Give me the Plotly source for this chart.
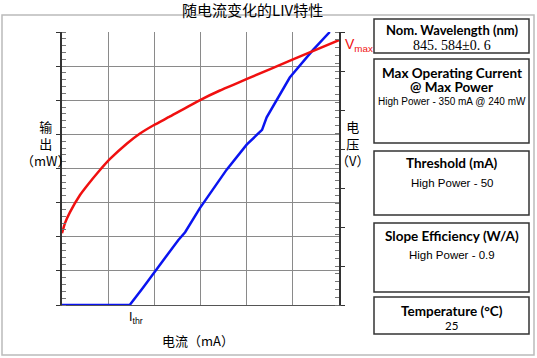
import plotly.graph_objects as go

# Data (current in mA)
current_power = [0, 88, 105, 120, 151, 160, 179, 214, 240, 260, 266, 296, 326, 348]
power_mw = [0, 0, 15, 29, 57, 64, 85, 119, 141, 154, 165, 200, 224, 240]

current_volt = [0, 3.9, 10.4, 23.4, 33.8, 45.5, 62.4, 84.5, 101.4, 119.6, 140.4, 179.4, 205.3, 240.4, 300.2, 360]
voltage_v = [0.92, 1.05, 1.19, 1.41, 1.545, 1.686, 1.872, 2.071, 2.199, 2.308, 2.417, 2.628, 2.75, 2.898, 3.148, 3.397]

title_text = "随电流变化的LIV特性"
x_label = "电流（mA）"
y_label = "输<br>出<br>（mW）"
y2_label = "电<br>压<br>（V）"

panels = [
    ("Nom. Wavelength (nm)", "845. 584±0. 6"),
    ("Max Operating Current<br>@ Max Power", "High Power - 350 mA @ 240 mW"),
    ("Threshold (mA)", "High Power - 50"),
    ("Slope Efficiency (W/A)", "High Power - 0.9"),
    ("Temperature (°C)", "25"),
]

W, H = 537, 358
def px(x):
    return x / W
def py(y):
    return 1 - y / H

CJK = "Noto Sans CJK SC"

fig = go.Figure()
fig.add_trace(go.Scatter(x=current_power, y=power_mw, mode="lines",
                         line=dict(color="#0a14f0", width=2.5), yaxis="y", showlegend=False))
fig.add_trace(go.Scatter(x=current_volt, y=voltage_v, mode="lines",
                         line=dict(color="#f01010", width=2.5, shape="spline", smoothing=0.5),
                         yaxis="y2", showlegend=False))

fig.update_layout(
    width=W, height=H,
    margin=dict(l=0, r=0, t=0, b=0),
    paper_bgcolor="white", plot_bgcolor="white",
    xaxis=dict(domain=[px(62), px(339)], range=[0, 360], dtick=60, showgrid=True,
               gridcolor="#8a8a8a", gridwidth=1, showticklabels=False, ticks="",
               showline=True, linecolor="#555", linewidth=1, zeroline=False, fixedrange=True),
    yaxis=dict(domain=[py(305), py(32)], range=[0, 240], dtick=30, showgrid=True,
               gridcolor="#8a8a8a", gridwidth=1, showticklabels=False, ticks="outside",
               ticklen=4, tickcolor="#333", showline=True, linecolor="#333", linewidth=2,
               zeroline=False,
               minor=dict(dtick=6, ticks="inside", ticklen=4, tickcolor="#777", showgrid=False)),
    yaxis2=dict(overlaying="y", side="right", range=[0, 3.5], dtick=0.5, showgrid=False,
                showticklabels=False, ticks="outside", ticklen=4, tickcolor="#333",
                showline=True, linecolor="#333", linewidth=2, zeroline=False,
                minor=dict(dtick=0.1, ticks="inside", ticklen=4, tickcolor="#777")),
)

shapes = []
# outer frame
shapes.append(dict(type="rect", xref="paper", yref="paper", x0=px(2), x1=px(534),
                   y0=py(355), y1=py(15), line=dict(color="#bbbbbb", width=1.5)))
boxes = [(19, 53), (59, 143), (151, 215), (223, 292), (297, 334)]
for (t, b) in boxes:
    shapes.append(dict(type="rect", xref="paper", yref="paper", x0=px(374), x1=px(529),
                       y0=py(b), y1=py(t), line=dict(color="#333333", width=1.5)))
fig.update_layout(shapes=shapes)

ann = []
def A(text, x, y, size, color="black", family=CJK, xanchor="center", bold=False):
    ann.append(dict(text=(f"<b>{text}</b>" if bold else text), x=px(x), y=py(y), xref="paper",
                    yref="paper", showarrow=False, xanchor=xanchor, yanchor="middle",
                    font=dict(size=size, color=color, family=family)))

A(title_text, 252, 9, 15)
A(x_label, 198, 340, 13)
ann.append(dict(text=y_label, x=px(45), y=py(143), xref="paper", yref="paper", showarrow=False,
                xanchor="center", yanchor="middle", align="center",
                font=dict(size=13, family=CJK, color="black")))
ann.append(dict(text=y2_label, x=px(352), y=py(143), xref="paper", yref="paper", showarrow=False,
                xanchor="center", yanchor="middle", align="center",
                font=dict(size=13, family=CJK, color="black")))
A("V<sub>max</sub>", 343, 45, 14, color="#f01010", family="Liberation Sans", xanchor="left")
A("I<sub>thr</sub>", 127, 318, 12.5, color="black", family="Liberation Sans", xanchor="left")

cx = 451.5
TS = 13.5
A(panels[0][0], cx, 30, 13, family="Lato", bold=True)
A(panels[0][1], cx, 45, 14, family="Liberation Serif")
A("Max Operating Current", cx, 73, TS, family="Lato", bold=True)
A("@ Max Power", cx, 87, TS, family="Lato", bold=True)
A(panels[1][1], cx, 102, 10, family="Liberation Sans")
A(panels[2][0], cx, 163, TS, family="Lato", bold=True)
A(panels[2][1], cx, 183, 11.5, family="Liberation Sans")
A(panels[3][0], cx, 236, TS, family="Lato", bold=True)
A(panels[3][1], cx, 255, 11.5, family="Liberation Sans")
A(panels[4][0], cx, 311, TS, family="Lato", bold=True)
A(panels[4][1], cx, 325, 11.5, family="Lato")
fig.update_layout(annotations=ann)

fig.write_html("out.html", config={"displayModeBar": False},
               post_script="document.body.style.margin='0';")
